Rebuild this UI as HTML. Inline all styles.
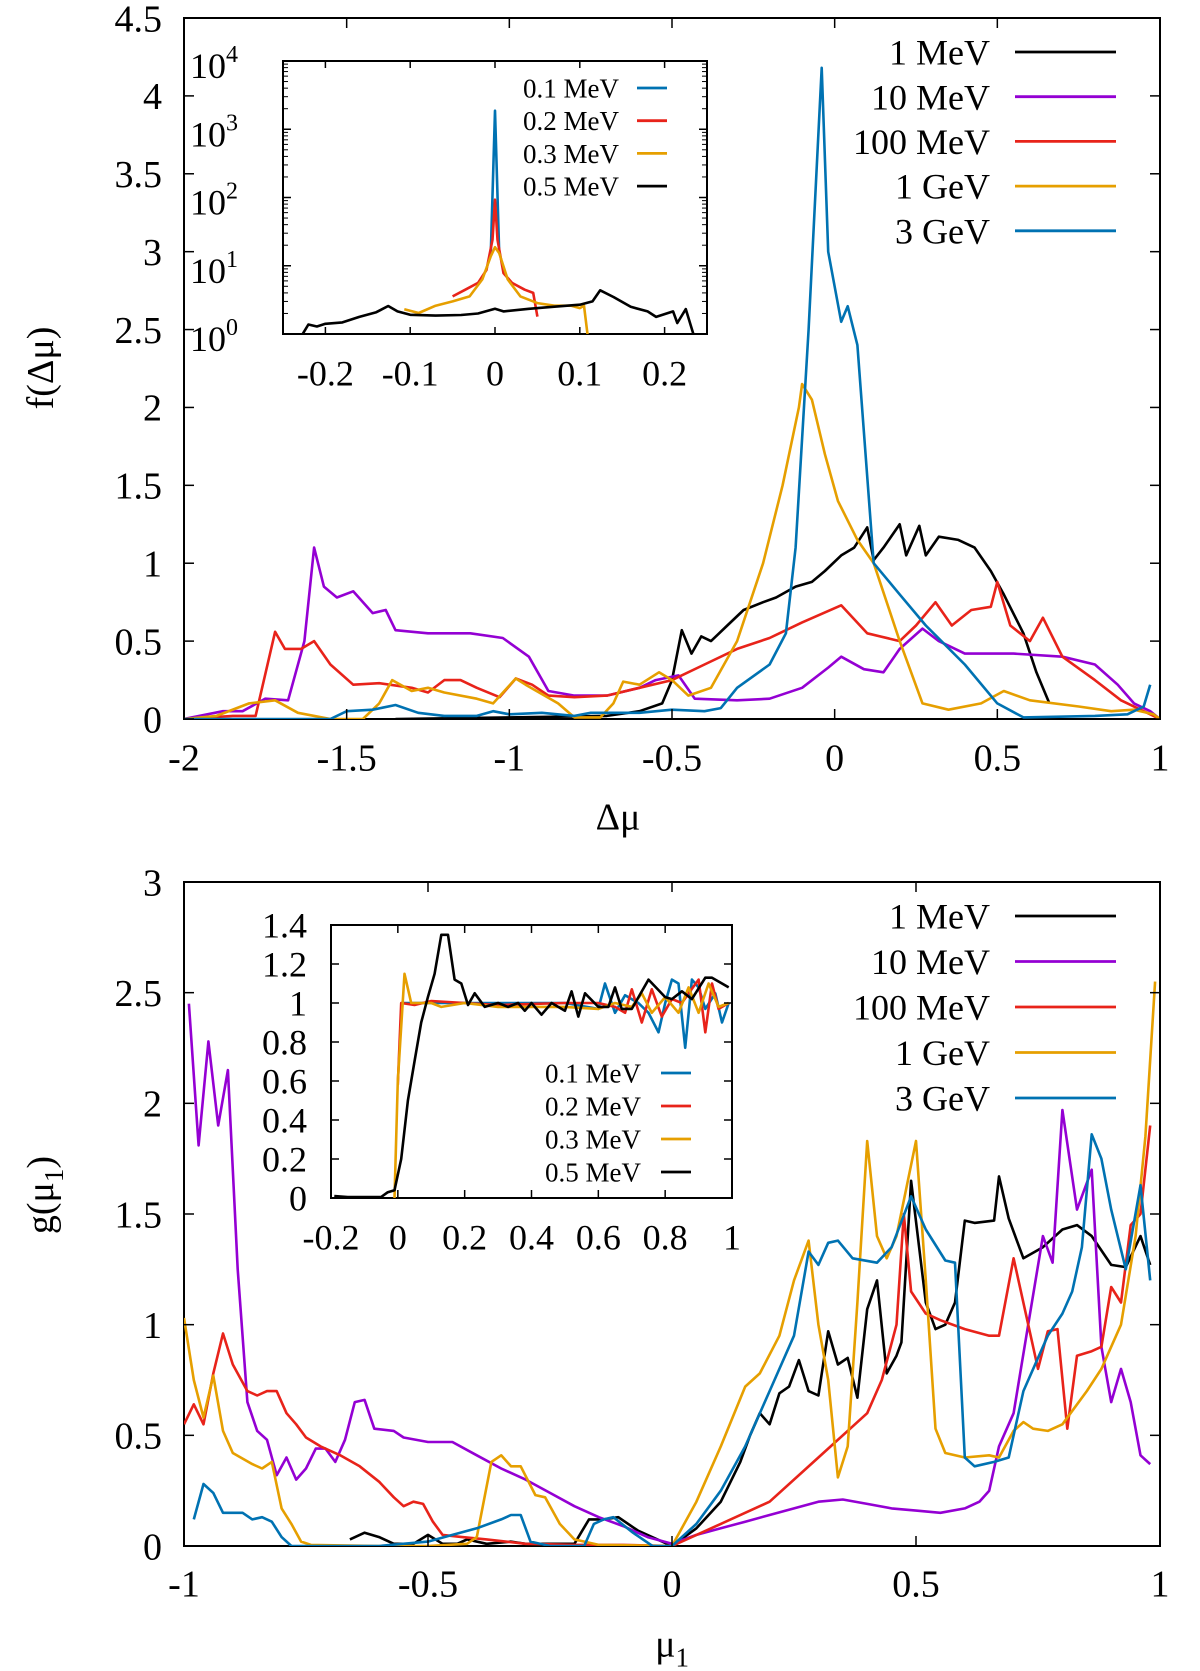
<!DOCTYPE html>
<html><head><meta charset="utf-8"><style>
html,body{margin:0;padding:0;background:#fff;}
svg{display:block;font-family:"Liberation Serif",serif;}
</style></head><body>
<svg id="fig" width="1200" height="1671" viewBox="0 0 1200 1671" xmlns="http://www.w3.org/2000/svg">
<rect width="1200" height="1671" fill="#fff"/>
<defs>
<clipPath id="cTop"><rect x="184" y="18" width="976" height="701"/></clipPath>
<clipPath id="cTopIn"><rect x="283" y="61" width="424" height="273"/></clipPath>
<clipPath id="cBot"><rect x="184" y="882" width="976" height="664"/></clipPath>
<clipPath id="cBotIn"><rect x="331" y="925" width="401" height="273"/></clipPath>
</defs>
<g id="root"></g>
</svg>
<script>
// ---------- Top panel data: f(Δμ) ----------
const topNames = ["1 MeV","10 MeV","100 MeV","1 GeV","3 GeV"];
const topXTicks = [-2,-1.5,-1,-0.5,0,0.5,1];
const topYTicks = [0,0.5,1,1.5,2,2.5,3,3.5,4,4.5];
const top1MeV = [[-1.35,0],[-1.0,0.01],[-0.7,0.02],[-0.6,0.05],[-0.53,0.1],[-0.5,0.25],[-0.47,0.57],[-0.44,0.42],[-0.41,0.53],[-0.38,0.5],[-0.33,0.6],[-0.28,0.7],[-0.22,0.75],[-0.18,0.78],[-0.12,0.85],[-0.07,0.88],[-0.03,0.95],[0.02,1.05],[0.06,1.1],[0.1,1.23],[0.12,1.02],[0.15,1.1],[0.2,1.25],[0.22,1.05],[0.26,1.24],[0.28,1.05],[0.32,1.17],[0.38,1.15],[0.43,1.1],[0.48,0.95],[0.52,0.8],[0.58,0.55],[0.62,0.3],[0.66,0.1]];
const top10MeV = [[-2,0],[-1.88,0.05],[-1.82,0.05],[-1.75,0.13],[-1.68,0.12],[-1.63,0.5],[-1.6,1.1],[-1.57,0.85],[-1.53,0.78],[-1.48,0.82],[-1.42,0.68],[-1.38,0.7],[-1.35,0.57],[-1.25,0.55],[-1.12,0.55],[-1.02,0.52],[-0.94,0.4],[-0.88,0.18],[-0.8,0.15],[-0.7,0.15],[-0.6,0.2],[-0.55,0.25],[-0.48,0.28],[-0.43,0.13],[-0.3,0.12],[-0.2,0.13],[-0.1,0.2],[-0.02,0.33],[0.02,0.4],[0.09,0.32],[0.15,0.3],[0.2,0.45],[0.27,0.58],[0.32,0.5],[0.4,0.42],[0.55,0.42],[0.7,0.4],[0.8,0.35],[0.87,0.22],[0.92,0.1],[0.97,0.05],[1,0]];
const top100MeV = [[-2,0],[-1.85,0.02],[-1.78,0.02],[-1.72,0.56],[-1.69,0.45],[-1.64,0.45],[-1.6,0.5],[-1.55,0.35],[-1.48,0.22],[-1.4,0.23],[-1.3,0.2],[-1.25,0.17],[-1.2,0.25],[-1.15,0.25],[-1.1,0.2],[-1.03,0.14],[-0.98,0.26],[-0.93,0.22],[-0.88,0.15],[-0.8,0.14],[-0.7,0.15],[-0.6,0.2],[-0.5,0.25],[-0.4,0.35],[-0.3,0.45],[-0.2,0.52],[-0.1,0.62],[0.02,0.73],[0.1,0.55],[0.2,0.5],[0.25,0.6],[0.31,0.75],[0.36,0.6],[0.42,0.7],[0.48,0.72],[0.5,0.88],[0.54,0.6],[0.6,0.5],[0.64,0.65],[0.7,0.4],[0.8,0.25],[0.88,0.12],[0.95,0.05],[1,0]];
const top1GeV = [[-2,0],[-1.9,0.02],[-1.8,0.1],[-1.72,0.12],[-1.65,0.04],[-1.55,0],[-1.45,0],[-1.4,0.1],[-1.36,0.25],[-1.3,0.18],[-1.25,0.2],[-1.2,0.17],[-1.1,0.13],[-1.05,0.1],[-0.98,0.26],[-0.95,0.22],[-0.85,0.1],[-0.8,0.01],[-0.72,0.01],[-0.68,0.1],[-0.65,0.24],[-0.6,0.22],[-0.54,0.3],[-0.5,0.25],[-0.45,0.15],[-0.38,0.2],[-0.3,0.5],[-0.22,1.0],[-0.16,1.5],[-0.11,2.0],[-0.1,2.15],[-0.07,2.05],[-0.03,1.7],[0.01,1.4],[0.07,1.15],[0.12,1.0],[0.2,0.5],[0.27,0.1],[0.35,0.06],[0.45,0.1],[0.52,0.18],[0.6,0.12],[0.75,0.08],[0.85,0.05],[0.92,0.06],[0.98,0.03],[1,0]];
const top3GeV = [[-2,0],[-1.55,0],[-1.5,0.05],[-1.42,0.06],[-1.35,0.09],[-1.28,0.04],[-1.2,0.02],[-1.1,0.02],[-1.05,0.05],[-1.0,0.03],[-0.9,0.04],[-0.8,0.02],[-0.75,0.04],[-0.6,0.04],[-0.5,0.06],[-0.4,0.05],[-0.35,0.07],[-0.3,0.2],[-0.2,0.35],[-0.15,0.55],[-0.12,1.1],[-0.08,2.5],[-0.04,4.18],[-0.02,3.0],[0.02,2.55],[0.04,2.65],[0.07,2.4],[0.12,1.0],[0.2,0.8],[0.28,0.6],[0.4,0.35],[0.5,0.1],[0.58,0.01],[0.8,0.02],[0.9,0.03],[0.95,0.08],[0.97,0.22]];
// ---------- Top inset data (log scale) ----------
const tinNames = ["0.1 MeV","0.2 MeV","0.3 MeV","0.5 MeV"];
const tinXTicks = [-0.2,-0.1,0,0.1,0.2];
const tinYExp = [0,1,2,3,4];
const tin01 = [[-0.005,15.3],[0,1870],[0.005,15.3]];
const tin02 = [[-0.05,3.55],[-0.035,4.45],[-0.02,5.6],[-0.01,8.7],[-0.003,24],[0,93],[0.003,24],[0.01,7.8],[0.02,5.6],[0.035,4.45],[0.045,4.0],[0.05,1.8]];
const tin03 = [[-0.107,2.3],[-0.09,2.03],[-0.07,2.6],[-0.05,3.0],[-0.03,3.55],[-0.015,6.3],[-0.005,13.8],[0,18.7],[0.005,15.3],[0.015,6.3],[0.03,3.55],[0.05,2.84],[0.07,2.6],[0.09,2.6],[0.1,2.4],[0.105,2.6],[0.11,0.8]];
const tin05 = [[-0.229,0.9],[-0.22,1.38],[-0.21,1.29],[-0.2,1.41],[-0.18,1.48],[-0.16,1.78],[-0.14,2.09],[-0.126,2.57],[-0.115,2.14],[-0.1,1.91],[-0.07,1.86],[-0.04,1.9],[-0.02,2.0],[0,2.34],[0.01,2.14],[0.04,2.34],[0.07,2.51],[0.1,2.69],[0.115,3.0],[0.124,4.37],[0.14,3.47],[0.16,2.5],[0.18,2.14],[0.19,1.78],[0.21,2.14],[0.215,1.45],[0.225,2.32],[0.235,0.9]];
// ---------- Bottom panel data: g(μ1) ----------
const botXTicks = [-1,-0.5,0,0.5,1];
const botYTicks = [0,0.5,1,1.5,2,2.5,3];
const bot1MeV = [[-0.66,0.03],[-0.63,0.06],[-0.6,0.04],[-0.57,0.01],[-0.53,0.01],[-0.5,0.05],[-0.47,0.01],[-0.44,0.01],[-0.42,0.03],[-0.38,0.01],[-0.33,0.02],[-0.3,0.01],[-0.2,0.01],[-0.17,0.12],[-0.14,0.12],[-0.11,0.13],[-0.07,0.07],[-0.03,0.03],[0,0],[0.05,0.08],[0.1,0.2],[0.14,0.38],[0.16,0.5],[0.18,0.6],[0.2,0.55],[0.22,0.69],[0.24,0.72],[0.26,0.84],[0.28,0.7],[0.3,0.68],[0.32,0.97],[0.34,0.82],[0.36,0.85],[0.38,0.67],[0.4,1.07],[0.42,1.2],[0.44,0.78],[0.46,0.86],[0.47,0.92],[0.49,1.65],[0.52,1.1],[0.54,0.98],[0.56,1.0],[0.58,1.1],[0.6,1.47],[0.62,1.46],[0.66,1.47],[0.67,1.67],[0.69,1.48],[0.72,1.3],[0.76,1.35],[0.8,1.43],[0.83,1.45],[0.86,1.4],[0.9,1.27],[0.93,1.26],[0.96,1.4],[0.98,1.27]];
const bot10MeV = [[-0.99,2.45],[-0.97,1.81],[-0.95,2.28],[-0.93,1.9],[-0.91,2.15],[-0.89,1.25],[-0.87,0.65],[-0.85,0.52],[-0.83,0.48],[-0.81,0.32],[-0.79,0.4],[-0.77,0.3],[-0.75,0.35],[-0.73,0.44],[-0.71,0.44],[-0.69,0.38],[-0.67,0.48],[-0.65,0.65],[-0.63,0.66],[-0.61,0.53],[-0.57,0.52],[-0.55,0.49],[-0.5,0.47],[-0.45,0.47],[-0.4,0.41],[-0.35,0.35],[-0.3,0.3],[-0.25,0.24],[-0.2,0.18],[-0.15,0.13],[-0.1,0.09],[-0.05,0.04],[0,0.01],[0.05,0.05],[0.1,0.08],[0.15,0.11],[0.2,0.14],[0.25,0.17],[0.3,0.2],[0.35,0.21],[0.4,0.19],[0.45,0.17],[0.5,0.16],[0.55,0.15],[0.6,0.17],[0.63,0.2],[0.65,0.25],[0.67,0.45],[0.7,0.6],[0.73,1.0],[0.76,1.4],[0.78,1.28],[0.8,1.97],[0.83,1.52],[0.86,1.7],[0.88,0.9],[0.9,0.65],[0.92,0.8],[0.94,0.65],[0.96,0.41],[0.98,0.37]];
const bot100MeV = [[-1,0.55],[-0.98,0.64],[-0.96,0.55],[-0.94,0.78],[-0.92,0.96],[-0.9,0.82],[-0.87,0.7],[-0.85,0.68],[-0.83,0.7],[-0.81,0.7],[-0.79,0.6],[-0.77,0.55],[-0.75,0.49],[-0.72,0.45],[-0.68,0.41],[-0.64,0.36],[-0.6,0.29],[-0.57,0.22],[-0.55,0.18],[-0.53,0.2],[-0.51,0.19],[-0.49,0.11],[-0.47,0.05],[-0.43,0.04],[-0.38,0.03],[-0.3,0.01],[-0.2,0.005],[-0.1,0.005],[0,0],[0.1,0.1],[0.2,0.2],[0.3,0.4],[0.4,0.6],[0.43,0.75],[0.46,1.0],[0.475,1.5],[0.49,1.15],[0.52,1.05],[0.55,1.02],[0.6,0.98],[0.65,0.95],[0.67,0.95],[0.7,1.3],[0.75,0.8],[0.77,0.97],[0.79,0.98],[0.81,0.53],[0.83,0.86],[0.86,0.88],[0.88,0.9],[0.9,1.17],[0.92,1.1],[0.94,1.45],[0.96,1.5],[0.98,1.9]];
const bot1GeV = [[-1,1.03],[-0.98,0.75],[-0.96,0.58],[-0.94,0.77],[-0.92,0.52],[-0.9,0.42],[-0.86,0.37],[-0.84,0.35],[-0.82,0.38],[-0.8,0.17],[-0.78,0.1],[-0.76,0.02],[-0.74,0.005],[-0.6,0],[-0.5,0],[-0.42,0.01],[-0.4,0.04],[-0.37,0.38],[-0.35,0.41],[-0.33,0.36],[-0.31,0.36],[-0.28,0.23],[-0.26,0.22],[-0.23,0.1],[-0.2,0.03],[-0.15,0.005],[0,0],[0.05,0.2],[0.1,0.45],[0.15,0.72],[0.18,0.78],[0.22,0.95],[0.25,1.2],[0.28,1.38],[0.3,1.0],[0.32,0.75],[0.34,0.31],[0.36,0.45],[0.38,1.1],[0.4,1.83],[0.42,1.4],[0.44,1.3],[0.46,1.4],[0.5,1.83],[0.52,1.2],[0.54,0.53],[0.56,0.42],[0.6,0.4],[0.65,0.41],[0.67,0.4],[0.7,0.52],[0.72,0.56],[0.74,0.53],[0.77,0.52],[0.8,0.55],[0.85,0.7],[0.88,0.8],[0.92,1.0],[0.95,1.4],[0.97,1.85],[0.99,2.55]];
const bot3GeV = [[-0.98,0.12],[-0.96,0.28],[-0.94,0.24],[-0.92,0.15],[-0.88,0.15],[-0.86,0.12],[-0.84,0.13],[-0.82,0.11],[-0.8,0.04],[-0.78,0],[-0.6,0],[-0.5,0.02],[-0.45,0.05],[-0.4,0.08],[-0.35,0.12],[-0.33,0.14],[-0.31,0.14],[-0.29,0.02],[-0.25,0],[-0.18,0],[-0.16,0.1],[-0.14,0.12],[-0.12,0.13],[-0.08,0.06],[-0.04,0],[0,0],[0.05,0.1],[0.1,0.25],[0.15,0.45],[0.2,0.7],[0.25,0.95],[0.28,1.33],[0.3,1.27],[0.32,1.37],[0.34,1.38],[0.37,1.3],[0.42,1.28],[0.45,1.35],[0.49,1.58],[0.52,1.43],[0.56,1.29],[0.58,1.28],[0.6,0.4],[0.62,0.36],[0.66,0.38],[0.69,0.4],[0.72,0.7],[0.77,0.95],[0.8,1.05],[0.82,1.15],[0.84,1.35],[0.86,1.86],[0.88,1.75],[0.9,1.52],[0.93,1.25],[0.96,1.63],[0.98,1.2]];
// ---------- Bottom inset data ----------
const binXTicks = [-0.2,0,0.2,0.4,0.6,0.8,1];
const binYTicks = [0,0.2,0.4,0.6,0.8,1,1.2,1.4];
const bin01 = [[0.01,1.0],[0.5,1.0],[0.6,0.97],[0.62,1.1],[0.65,0.95],[0.68,1.04],[0.72,1.0],[0.75,0.95],[0.78,0.85],[0.8,1.0],[0.82,1.12],[0.84,1.1],[0.86,0.77],[0.88,1.12],[0.9,1.08],[0.92,0.97],[0.95,1.05],[0.97,0.9],[0.99,1.0]];
const bin02 = [[0,0.58],[0.01,1.0],[0.05,0.99],[0.1,1.01],[0.2,1.0],[0.3,0.99],[0.5,1.0],[0.6,1.0],[0.65,0.98],[0.68,0.95],[0.7,1.07],[0.73,0.9],[0.76,1.07],[0.79,0.93],[0.82,1.02],[0.85,1.0],[0.87,1.05],[0.9,1.12],[0.92,0.85],[0.94,1.1],[0.96,0.97],[0.99,1.0]];
const bin03 = [[-0.01,0],[0,0.6],[0.02,1.15],[0.04,1.0],[0.1,1.0],[0.13,0.98],[0.2,1.0],[0.3,0.98],[0.5,0.98],[0.6,0.97],[0.65,1.0],[0.7,0.98],[0.73,1.05],[0.76,0.95],[0.8,1.03],[0.84,0.95],[0.87,1.08],[0.9,0.95],[0.93,1.1],[0.96,0.98],[0.99,1.0]];
const bin05 = [[-0.19,0.01],[-0.15,0.005],[-0.1,0.005],[-0.05,0.005],[-0.03,0.03],[-0.01,0.04],[0.01,0.2],[0.03,0.5],[0.05,0.7],[0.07,0.9],[0.09,1.03],[0.11,1.15],[0.13,1.35],[0.15,1.35],[0.17,1.12],[0.19,1.1],[0.21,0.99],[0.23,1.05],[0.26,0.98],[0.3,1.0],[0.33,0.98],[0.36,1.0],[0.38,0.96],[0.4,1.0],[0.43,0.94],[0.46,1.0],[0.5,0.96],[0.52,1.06],[0.54,0.93],[0.56,1.05],[0.6,0.98],[0.63,0.98],[0.65,1.08],[0.67,0.97],[0.7,0.97],[0.75,1.12],[0.8,1.03],[0.82,1.02],[0.85,1.06],[0.88,1.02],[0.92,1.13],[0.94,1.13],[0.97,1.1],[0.99,1.08]];

const C = {black:"#000000",purple:"#9400d3",red:"#e8231a",orange:"#e69f00",blue:"#0072b2"};
const NS = "http://www.w3.org/2000/svg";
const root = document.getElementById("root");
function el(tag, attrs, parent){const e=document.createElementNS(NS,tag);for(const k in attrs)e.setAttribute(k,attrs[k]);(parent||root).appendChild(e);return e;}
function lin(d0,d1,p0,p1){return v=>p0+(v-d0)*(p1-p0)/(d1-d0);}
function logs(e0,e1,p0,p1){return v=>p0+(Math.log10(v)-e0)*(p1-p0)/(e1-e0);}
function fmt(v){let s=String(Math.round(v*100)/100);return s;}

function frame(g,x0,y0,x1,y1,name){
  const r=el("rect",{x:x0,y:y0,width:x1-x0,height:y1-y0,fill:"#fff",stroke:"#000","stroke-width":2},g);
  
  
}
function xticks(g,ticks,sx,y0,y1,len,labY,fs,name){
  ticks.forEach(t=>{
    const x=sx(t);
    el("line",{x1:x,y1:y1,x2:x,y2:y1-len,stroke:"#000","stroke-width":1.5},g);
    el("line",{x1:x,y1:y0,x2:x,y2:y0+len,stroke:"#000","stroke-width":1.5},g);
    const tx=el("text",{x:x,y:labY,"font-size":fs,"text-anchor":"middle",dy:"0.35em"},g);
    tx.textContent=fmt(t);
    
    
  });
}
function yticks(g,ticks,sy,x0,x1,len,labX,fs,name){
  ticks.forEach(t=>{
    const y=sy(t);
    el("line",{x1:x0,y1:y,x2:x0+len,y2:y,stroke:"#000","stroke-width":1.5},g);
    el("line",{x1:x1,y1:y,x2:x1-len,y2:y,stroke:"#000","stroke-width":1.5},g);
    const tx=el("text",{x:labX,y:y,"font-size":fs,"text-anchor":"end",dy:"0.35em"},g);
    tx.textContent=fmt(t);
    
    
  });
}
function series(g,data,sx,sy,color,clip,name){
  const d=data.map((p,i)=>(i?"L":"M")+sx(p[0]).toFixed(1)+","+sy(p[1]).toFixed(1)).join(" ");
  const p=el("path",{d:d,fill:"none",stroke:color,"stroke-width":2.6,"stroke-linejoin":"round","clip-path":"url(#"+clip+")"},g);
  
  
}
function legend(g,names,colors,xText,xl0,xl1,y0,dy,fs,prefix){
  names.forEach((n,i)=>{
    const y=y0+i*dy;
    const t=el("text",{x:xText,y:y,"font-size":fs,"text-anchor":"end",dy:"0.35em"},g);
    t.textContent=n;
    
    
    const l=el("line",{x1:xl0,y1:y,x2:xl1,y2:y,stroke:colors[i],"stroke-width":2.8},g);
    
    
  });
}
const mainColors=[C.black,C.purple,C.red,C.orange,C.blue];
const inColors=[C.blue,C.red,C.orange,C.black];

// ===== Top panel =====
const gT=el("g",{});


const tx=lin(-2,1,184,1160), ty=lin(0,4.5,719,18);
frame(gT,184,18,1160,719,'top-plot-frame');
[top1MeV,top10MeV,top100MeV,top1GeV,top3GeV].forEach((s,i)=>series(gT,s,tx,ty,mainColors[i],"cTop","top-series-"+topNames[i].replace(/ /g,'').toLowerCase()));
xticks(gT,topXTicks,tx,18,719,10,757,38,'top-x-tick-label');
yticks(gT,topYTicks,ty,184,1160,10,162,38,'top-y-tick-label');
legend(gT,topNames,mainColors,990,1015,1116,52,44.7,36,'top-legend-entry');
let t=el("text",{x:618,y:816,"font-size":38,"text-anchor":"middle",dy:"0.35em"},gT);t.textContent="Δμ";


t=el("text",{x:0,y:0,"font-size":38,"text-anchor":"middle",transform:"translate(53,368) rotate(-90)"},gT);t.textContent="f(Δμ)";



// Top inset
const gTI=el("g",{},gT);


const ix=lin(-0.25,0.25,283,707), iy=logs(0,4,334,61);
frame(gTI,283,61,707,334,'top-inset-frame');
tinXTicks.forEach(v=>{const x=ix(v);el("line",{x1:x,y1:334,x2:x,y2:327,stroke:"#000","stroke-width":1.5},gTI);el("line",{x1:x,y1:61,x2:x,y2:68,stroke:"#000","stroke-width":1.5},gTI);
  const l=el("text",{x:x,y:373,"font-size":36,"text-anchor":"middle",dy:"0.35em"},gTI);l.textContent=fmt(v);
  
  });
tinYExp.forEach(e=>{
  const y=iy(Math.pow(10,e));
  el("line",{x1:283,y1:y,x2:291,y2:y,stroke:"#000","stroke-width":1.5},gTI);
  el("line",{x1:707,y1:y,x2:699,y2:y,stroke:"#000","stroke-width":1.5},gTI);
  if(e<4){for(let m=2;m<10;m++){const ym=iy(m*Math.pow(10,e));el("line",{x1:283,y1:ym,x2:288,y2:ym,stroke:"#000","stroke-width":1},gTI);el("line",{x1:707,y1:ym,x2:702,y2:ym,stroke:"#000","stroke-width":1},gTI);}}
  const l=el("text",{x:244,y:y+17,"font-size":36,"text-anchor":"end"},gTI);
  l.textContent="10";
  const sup=el("tspan",{dy:-16,"font-size":24},l);sup.textContent=String(e);
  
  
  l.setAttribute("x",238);
});
[tin01,tin02,tin03,tin05].forEach((s,i)=>series(gTI,s,ix,iy,inColors[i],"cTopIn","top-inset-series-"+tinNames[i].replace(/[ .]/g,'').toLowerCase()));
legend(gTI,tinNames,inColors,619,637,667,88,32.7,27,'top-inset-legend-entry');

// ===== Bottom panel =====
const gB=el("g",{});


const bx=lin(-1,1,184,1160), by=lin(0,3,1546,882);
frame(gB,184,882,1160,1546,'bottom-plot-frame');
[bot1MeV,bot10MeV,bot100MeV,bot1GeV,bot3GeV].forEach((s,i)=>series(gB,s,bx,by,mainColors[i],"cBot","bottom-series-"+topNames[i].replace(/ /g,'').toLowerCase()));
xticks(gB,botXTicks,bx,882,1546,10,1583,38,'bottom-x-tick-label');
yticks(gB,botYTicks,by,184,1160,10,162,38,'bottom-y-tick-label');
legend(gB,topNames,mainColors,990,1015,1116,916,45.5,36,'bottom-legend-entry');
t=el("text",{x:672,y:1643,"font-size":38,"text-anchor":"middle",dy:"0.35em"},gB);t.textContent="μ";
const sb=el("tspan",{dy:10,"font-size":27},t);sb.textContent="1";


t=el("text",{x:0,y:0,"font-size":38,"text-anchor":"middle",transform:"translate(53,1195) rotate(-90)"},gB);t.textContent="g(μ";
const sb2=el("tspan",{dy:10,"font-size":27},t);sb2.textContent="1";
const sb3=el("tspan",{dy:-10},t);sb3.textContent=")";



// Bottom inset
const gBI=el("g",{},gB);


const jx=lin(-0.2,1,331,732), jy=lin(0,1.4,1198,925);
frame(gBI,331,925,732,1198,'bottom-inset-frame');
[bin01,bin02,bin03,bin05].forEach((s,i)=>series(gBI,s,jx,jy,inColors[i],"cBotIn","bottom-inset-series-"+tinNames[i].replace(/[ .]/g,'').toLowerCase()));
xticks(gBI,binXTicks,jx,925,1198,8,1237,36,'bottom-inset-x-tick-label');
yticks(gBI,binYTicks,jy,331,732,8,307,36,'bottom-inset-y-tick-label');
legend(gBI,tinNames,inColors,641,661,691,1073,33,27,'bottom-inset-legend-entry');
</script>
</body></html>
